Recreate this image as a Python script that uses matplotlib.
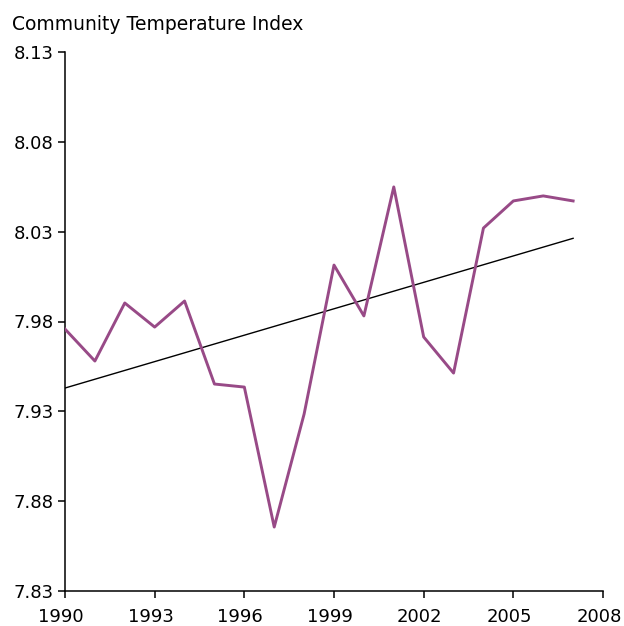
import numpy as np
import matplotlib
matplotlib.use("Agg")
import matplotlib.pyplot as plt
import matplotlib.transforms as mtransforms

years = list(range(1990, 2008))
values = [7.9758, 7.958, 7.9903, 7.9769, 7.9914, 7.9452, 7.9435, 7.8656, 7.9285,
          8.0114, 7.9831, 8.0549, 7.9714, 7.9513, 8.032, 8.0471, 8.0499, 8.0471]
title = "Community Temperature Index"
yticks = [7.83, 7.88, 7.93, 7.98, 8.03, 8.08, 8.13]
xticks = [1990, 1993, 1996, 1999, 2002, 2005, 2008]

plt.rcParams['font.family'] = ['DejaVu Sans']
fig = plt.figure(figsize=(6.24, 6.26), dpi=100)
ax = fig.add_axes([65/624, 35/626, 538/624, 539/626])

ax.plot(years, values, color='#984A87', lw=2.1, zorder=3)
slope, intercept = np.polyfit(years, values, 1)
tx = np.array([years[0], years[-1]])
ax.plot(tx, slope * tx + intercept, color='black', lw=1.0, zorder=2)

ax.set_xlim(1990, 2008)
ax.set_ylim(7.83, 8.13)
ax.set_xticks(xticks)
ax.set_xticklabels([str(x) for x in xticks])
ax.set_yticks(yticks)
ax.set_yticklabels([f"{y:.2f}" for y in yticks])
for s in ['top', 'right']:
    ax.spines[s].set_visible(False)
for s in ['left', 'bottom']:
    ax.spines[s].set_linewidth(1.1)
ax.tick_params(axis='both', length=5, width=1.1, labelsize=13, colors='black')
ax.tick_params(axis='y', pad=3)
ax.tick_params(axis='x', pad=7.5)
offset = mtransforms.ScaledTranslation(-4/100, 0, fig.dpi_scale_trans)
for lab in ax.get_xticklabels():
    lab.set_transform(lab.get_transform() + offset)
fig.text(12/624, 1 - 30/626, title, fontsize=13.5, ha='left', va='baseline')
fig.savefig("out.png", dpi=100)
